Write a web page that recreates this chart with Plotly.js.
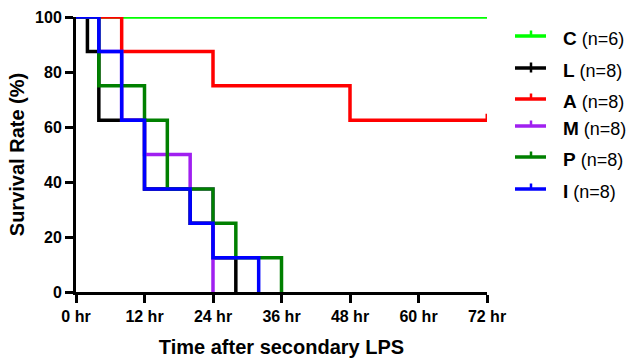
<!DOCTYPE html>
<html>
<head>
<meta charset="utf-8">
<script src="https://cdn.plot.ly/plotly-3.0.1.min.js"></script>
<style>html,body{margin:0;padding:0;background:#fff;}#chart{width:633px;height:362px;}</style>
</head>
<body>
<div id="chart"></div>
<script>
// ---- data ----
const groups = ['C', 'L', 'A', 'M', 'P', 'I'];
const groupN = [6, 8, 8, 8, 8, 8];
const colors = ['#00FF00', '#000000', '#FF0000', '#A020F0', '#008000', '#0000FF'];

const timeC = [0, 72];
const survC = [100, 100];
const timeL = [0, 2, 4, 12, 20, 24, 28];
const survL = [100, 87.5, 62.5, 37.5, 25, 12.5, 0];
const timeA = [0, 8, 24, 48, 72];
const survA = [100, 87.5, 75, 62.5, 62.5];
const timeM = [0, 4, 8, 12, 20, 24];
const survM = [100, 87.5, 62.5, 50, 37.5, 0];
const timeP = [0, 4, 12, 16, 24, 28, 36];
const survP = [100, 75, 62.5, 37.5, 25, 12.5, 0];
const timeI = [0, 4, 8, 12, 20, 24, 32];
const survI = [100, 87.5, 62.5, 37.5, 25, 12.5, 0];
const censoredAtEnd = [true, false, true, false, false, false];

const xTickVals = [0, 12, 24, 36, 48, 60, 72];
const xTickText = ['0 hr', '12 hr', '24 hr', '36 hr', '48 hr', '60 hr', '72 hr'];
const yTickVals = [0, 20, 40, 60, 80, 100];

const times = [timeC, timeL, timeA, timeM, timeP, timeI];
const survs = [survC, survL, survA, survM, survP, survI];

// ---- styling ----
const FONT = 'Liberation Sans, Arial, Helvetica, sans-serif';
const W = 633, H = 362;
const M = {l: 76, r: 146, t: 17, b: 70};
const plotW = W - M.l - M.r, plotH = H - M.t - M.b;
const LINE_W = 3.5;
const CENSOR_TICK = 2.3; // in survival units (~6px)

const traces = [];
groups.forEach((g, i) => {
  traces.push({
    type: 'scatter', mode: 'lines', name: g,
    x: times[i], y: survs[i],
    line: {shape: 'hv', color: colors[i], width: LINE_W},
    cliponaxis: false, showlegend: false, hoverinfo: 'skip'
  });
  if (censoredAtEnd[i]) {
    const n = times[i].length;
    const tEnd = times[i][n - 1], sEnd = survs[i][n - 1];
    traces.push({
      type: 'scatter', mode: 'lines', name: g + ' censored',
      x: [tEnd, tEnd], y: [sEnd, sEnd + CENSOR_TICK],
      line: {color: colors[i], width: 3},
      cliponaxis: false, showlegend: false, hoverinfo: 'skip'
    });
  }
});

// ---- manual legend (pixel positions converted to paper coords) ----
const px2x = px => (px - M.l) / plotW;
const py2y = py => (H - M.b - py) / plotH;
const legendRowsPx = [36, 68, 99, 126, 157, 189];
const shapes = [];
const annotations = [];
groups.forEach((g, i) => {
  const yy = legendRowsPx[i];
  shapes.push({type: 'line', xref: 'paper', yref: 'paper',
    x0: px2x(515), x1: px2x(546), y0: py2y(yy), y1: py2y(yy),
    line: {color: colors[i], width: 3.5}});
  shapes.push({type: 'line', xref: 'paper', yref: 'paper',
    x0: px2x(531), x1: px2x(531), y0: py2y(yy - 5.5), y1: py2y(g === 'L' ? yy + 4.5 : yy),
    line: {color: colors[i], width: 2.5}});
  annotations.push({xref: 'paper', yref: 'paper', x: px2x(561), y: py2y(yy + 2.5),
    xanchor: 'left', yanchor: 'middle', showarrow: false,
    text: '<b><span style="font-size:19px">' + g + '</span></b> (n=' + groupN[i] + ')',
    font: {family: FONT, size: 18, color: '#000'}});
});

const layout = {
  width: W, height: H,
  margin: M,
  paper_bgcolor: '#fff', plot_bgcolor: '#fff',
  font: {family: FONT, color: '#000'},
  showlegend: false,
  xaxis: {
    range: [0, 72], tickvals: xTickVals, ticktext: xTickText,
    showgrid: false, zeroline: false, showline: true, linecolor: '#000', linewidth: 3,
    ticks: 'outside', ticklen: 8, tickwidth: 3, tickcolor: '#000',
    tickfont: {family: FONT, size: 16, weight: 'bold', color: '#000'},
    title: {text: 'Time after secondary LPS', font: {family: FONT, size: 20, weight: 'bold', color: '#000'}, standoff: 16},
    layer: 'above traces', fixedrange: true
  },
  yaxis: {
    range: [0, 100], tickvals: yTickVals,
    showgrid: false, zeroline: false, showline: true, linecolor: '#000', linewidth: 3,
    ticks: 'outside', ticklen: 8, tickwidth: 3, tickcolor: '#000',
    tickfont: {family: FONT, size: 16, weight: 'bold', color: '#000'},
    title: {text: 'Survival Rate (%)', font: {family: FONT, size: 20, weight: 'bold', color: '#000'}, standoff: 6},
    layer: 'above traces', fixedrange: true
  },
  shapes: shapes,
  annotations: annotations
};

Plotly.newPlot('chart', traces, layout, {staticPlot: true, displayModeBar: false});
</script>
</body>
</html>
